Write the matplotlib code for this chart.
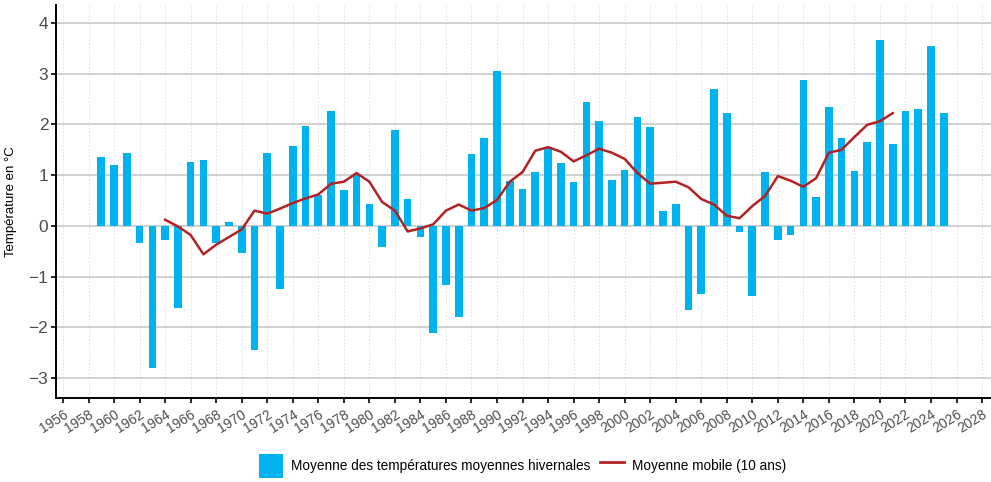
import numpy as np
import matplotlib.pyplot as plt
from matplotlib.patches import Patch
from matplotlib.lines import Line2D

plt.rcParams['font.family'] = ['Liberation Sans', 'DejaVu Sans']

# winter mean temperature anomalies, one value per year
years = list(range(1959, 2026))
temps = [1.36, 1.20, 1.44, -0.33, -2.80, -0.28, -1.61, 1.25, 1.30, -0.34,
         0.08, -0.53, -2.44, 1.44, -1.25, 1.57, 1.96, 0.60, 2.27, 0.70,
         1.00, 0.43, -0.41, 1.89, 0.53, -0.22, -2.11, -1.16, -1.80, 1.41,
         1.73, 3.05, 0.89, 0.72, 1.06, 1.54, 1.24, 0.86, 2.44, 2.06,
         0.90, 1.10, 2.15, 1.94, 0.30, 0.43, -1.65, -1.35, 2.69, 2.23,
         -0.12, -1.39, 1.06, -0.27, -0.17, 2.87, 0.57, 2.34, 1.73, 1.08,
         1.65, 3.66, 1.62, 2.27, 2.30, 3.54, 2.23]

# 10-year moving average
ma_years = list(range(1964, 2022))
ma_vals = [0.12, -0.01, -0.18, -0.56, -0.37, -0.22, -0.07, 0.30, 0.24, 0.34,
           0.45, 0.54, 0.62, 0.83, 0.87, 1.04, 0.87, 0.47, 0.30, -0.11,
           -0.05, 0.03, 0.30, 0.42, 0.30, 0.35, 0.51, 0.87, 1.06, 1.48,
           1.55, 1.46, 1.27, 1.39, 1.52, 1.44, 1.32, 1.04, 0.83, 0.85,
           0.87, 0.76, 0.53, 0.42, 0.20, 0.15, 0.39, 0.59, 0.98, 0.89,
           0.77, 0.94, 1.44, 1.50, 1.75, 1.99, 2.06, 2.22]

bar_color = '#00B2EE'
line_color = '#B22222'

fig = plt.figure(figsize=(9.91, 4.82), dpi=100)
ax = fig.add_axes([56 / 991, 84 / 482, 935 / 991, 393 / 482])

ax.bar(years, temps, width=0.6, color=bar_color, zorder=2)
ax.plot(ma_years, ma_vals, color=line_color, lw=1.8, zorder=3)

ax.set_xlim(1955.45, 2028.7)
ax.set_ylim(-3.39, 4.35)
ax.set_xticks(np.arange(1956, 2029, 2))
ax.set_yticks(range(-3, 5))
ax.set_yticklabels([str(v).replace('-', '\u2212') for v in range(-3, 5)])

ax.grid(axis='y', color='#c4c4c4', lw=1.1, zorder=0)
ax.grid(axis='x', color='#dedede', lw=0.7, ls=(0, (1.5, 2)), zorder=0)
ax.set_axisbelow(True)

for side in ['top', 'right']:
    ax.spines[side].set_visible(False)
for side in ['left', 'bottom']:
    ax.spines[side].set_linewidth(1.4)
    ax.spines[side].set_color('black')

ax.tick_params(axis='x', labelsize=10, labelcolor='#4d4d4d', length=3.5,
               width=1.2, rotation=32, pad=3)
ax.tick_params(axis='y', labelsize=12.5, labelcolor='#4d4d4d', length=3.5,
               width=1.2, pad=2)
for lbl in ax.get_xticklabels():
    lbl.set_ha('right')
    lbl.set_rotation_mode('anchor')

ax.set_ylabel('Température en °C', fontsize=9.5, labelpad=8)

handles = [Patch(facecolor=bar_color, edgecolor='none'),
           Line2D([0], [0], color=line_color, lw=2)]
labels = ['Moyenne des températures moyennes hivernales',
          'Moyenne mobile (10 ans)']
fig.legend(handles, labels, loc='center', bbox_to_anchor=(523 / 991, 1 - 466 / 482),
           ncol=2, frameon=False, fontsize=9.8, handlelength=1.75,
           handleheight=2.3, handletextpad=0.6, columnspacing=0.7)

fig.savefig('out.png', dpi=100)
